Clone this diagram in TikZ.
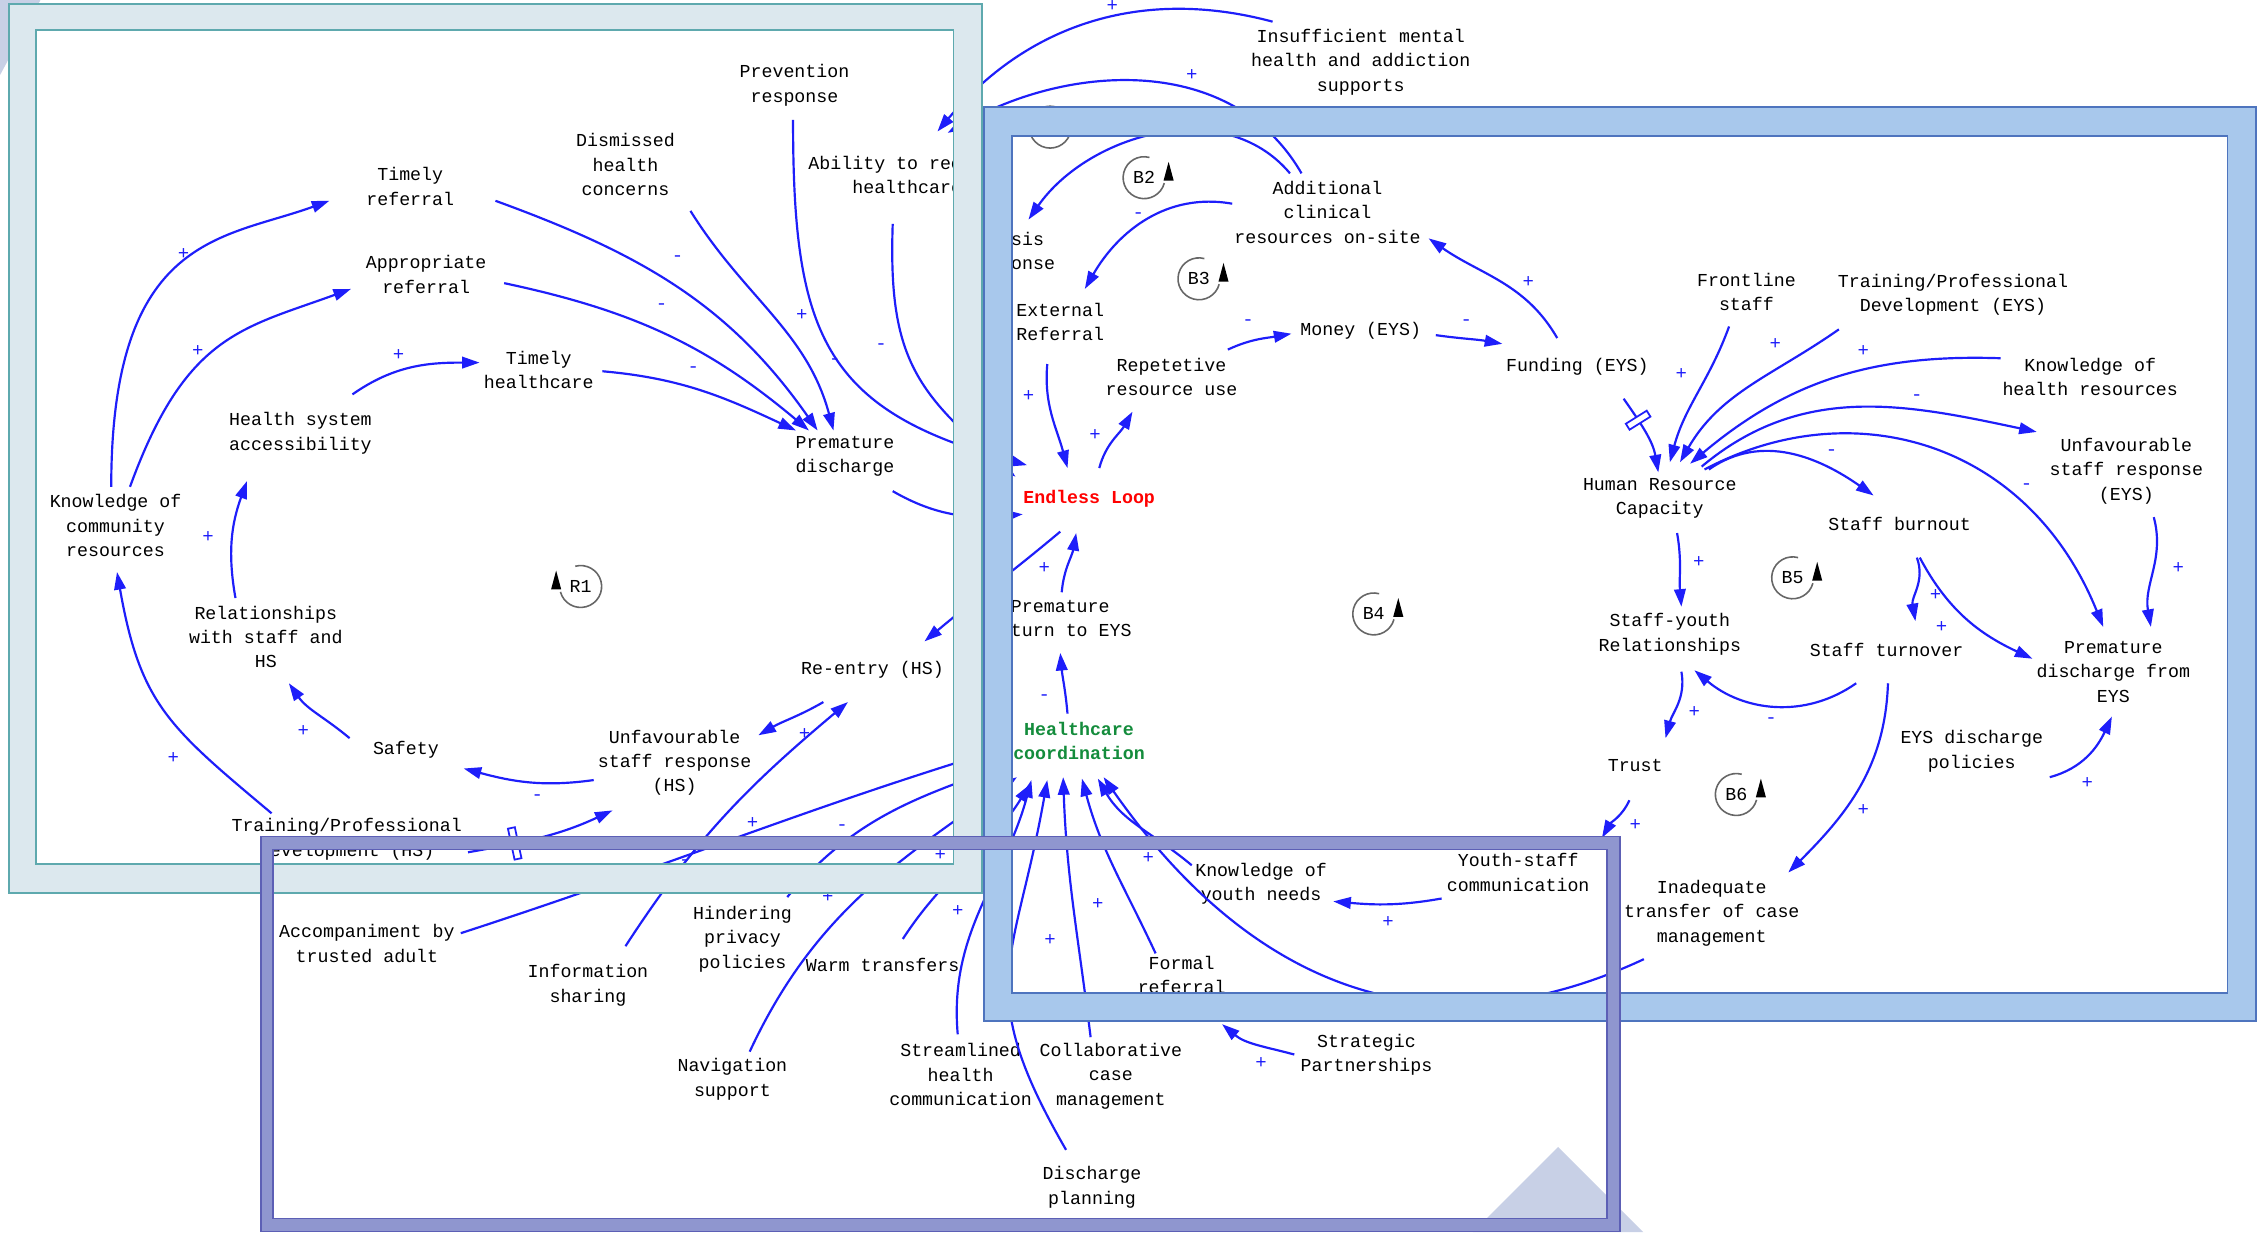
\documentclass[tikz,border=0pt]{standalone}
\usepackage{fontspec}
\usetikzlibrary{arrows.meta}
\newfontfamily\vm{Liberation Mono}
\definecolor{arblue}{RGB}{30,30,250}
\definecolor{hcgreen}{RGB}{20,140,60}
\definecolor{tealfill}{HTML}{DCE8EE}
\definecolor{tealline}{HTML}{5EA9AE}
\definecolor{bluefill}{HTML}{A8C8EC}
\definecolor{blueline}{HTML}{4E74BE}
\definecolor{purpfill}{HTML}{8F96CF}
\definecolor{purpline}{HTML}{5C5FB5}
\definecolor{lav}{HTML}{C8D0E6}
\newcommand\arr[7]{\draw[ar] ([shift={(#2,#3)}]#1.center) to[#7] ([shift={(#5,#6)}]#4.center);}
\newcommand\sg[4]{\node[sgn] (#1) at (#2,-#3) {#4};}
\newcommand\bsym[4]{%
  \draw[loopc] (#2,#3) ++(75:14.5) arc[start angle=75,end angle=345,radius=14.5];
  \fill[black] (#2+13.5,#3-2) -- (#2+20.5,#3-2) -- (#2+17,#3+11) -- cycle;
  \node[lbl] (#1) at (#2,#3) {#4};}
\newcommand\rsym[4]{%
  \draw[loopc] (#2,#3) ++(105:14.5) arc[start angle=105,end angle=-165,radius=14.5];
  \fill[black] (#2-13.5,#3-2) -- (#2-20.5,#3-2) -- (#2-17,#3+11) -- cycle;
  \node[lbl] (#1) at (#2,#3) {#4};}
\begin{document}
\begin{tikzpicture}[x=0.014445cm,y=0.014445cm,
  v/.style={font=\vm\fontsize{5.2}{6.95}\selectfont, align=center, inner sep=1pt, text=black},
  ar/.style={draw=arblue, line width=0.62pt, -{Triangle[length=5pt,width=3.3pt]}},
  sgn/.style={font=\vm\fontsize{5.4}{6}\selectfont, text=arblue, inner sep=0pt},
  loopc/.style={draw=black!60, line width=0.45pt},
  lbl/.style={font=\vm\fontsize{5.2}{6}\selectfont, inner sep=0pt, text=black},
  dly/.style={draw=arblue, fill=white, line width=0.5pt, minimum width=2pt, minimum height=9pt, inner sep=0pt, sloped}]
\useasboundingbox (0,0) rectangle (1568,-853);
\fill[white] (0,0) rectangle (1568,-853);
\fill[lav] (0,0) -- (28,0) -- (0,-52) -- cycle;

% ---------- variables ----------
\node[v] (prev) at (550,-59) {Prevention\\response};
\node[v] (dism) at (433,-114) {Dismissed\\health\\concerns};
\node[v] (trf) at (284,-129) {Timely\\referral};
\node[v] (abil) at (628,-121) {Ability to receive\\healthcare};
\node[v] (apr) at (295,-190) {Appropriate\\referral};
\node[v] (thc) at (373,-256) {Timely\\healthcare};
\node[v] (hsa) at (208,-300) {Health system\\accessibility};
\node[v] (pd) at (585,-316) {Premature\\discharge};
\node[v] (kcr) at (80,-364) {Knowledge of\\community\\resources};
\node[v] (rel) at (184,-441) {Relationships\\with staff and\\HS};
\node[v] (reentry) at (604,-464) {Re-entry (HS)};
\node[v] (safety) at (281,-519) {Safety};
\node[v] (usrhs) at (467,-528) {Unfavourable\\staff response\\(HS)};
\node[v] (tpdhs) at (240,-581) {Training/Professional\\Development (HS)};
\node[v] (acc) at (254,-653) {Accompaniment by\\trusted adult};
\node[v] (info) at (407,-682) {Information\\sharing};
\node[v] (hind) at (514,-650) {Hindering\\privacy\\policies};
\node[v] (warm) at (611,-668) {Warm transfers};
\node[v] (nav) at (507,-747) {Navigation\\support};
\node[v] (stream) at (665,-744) {Streamlined\\health\\communication};
\node[v] (collab) at (769,-745) {Collaborative\\case\\management};
\node[v] (disch) at (756,-822) {Discharge\\planning};
\node[v] (formal) at (818,-675) {Formal\\referral};
\node[v] (strat) at (946,-730) {Strategic\\Partnerships};
\node[v] (kyn) at (873,-612) {Knowledge of\\youth needs};
\node[v] (ysc) at (1051,-604) {Youth-staff\\communication};
\node[v] (itcm) at (1185,-632) {Inadequate\\transfer of case\\management};
\node[v, font=\vm\bfseries\fontsize{5.2}{6.95}\selectfont, text=hcgreen] (hcc) at (747,-513) {Healthcare\\coordination};
\node[v] (prem) at (734,-428) {Premature\\return to EYS};
\node[v, font=\vm\bfseries\fontsize{5.2}{6.95}\selectfont, text=red] (loop) at (754,-345) {Endless Loop};
\node[v] (crisis) at (700,-175) {Crisis\\response};
\node[v] (extref) at (734,-223) {External\\Referral};
\node[v] (rep) at (811,-261) {Repetetive\\resource use};
\node[v] (money) at (942,-229) {Money (EYS)};
\node[v] (fund) at (1092,-254) {Funding (EYS)};
\node[v] (addc) at (919,-147) {Additional\\clinical\\resources on-site};
\node[v] (insuf) at (942,-43) {Insufficient mental\\health and addiction\\supports};
\node[v] (front) at (1209,-202) {Frontline\\staff};
\node[v] (tpdeys) at (1352,-204) {Training/Professional\\Development (EYS)};
\node[v] (khr) at (1447,-261) {Knowledge of\\health resources};
\node[v] (hrc) at (1149,-345) {Human Resource\\Capacity};
\node[v] (usreys) at (1472,-326) {Unfavourable\\staff response\\(EYS)};
\node[v] (burn) at (1315,-363) {Staff burnout};
\node[v] (syr) at (1156,-439) {Staff-youth\\Relationships};
\node[v] (turn) at (1306,-450) {Staff turnover};
\node[v] (pdeys) at (1463,-465) {Premature\\discharge from\\EYS};
\node[v] (trust) at (1132,-530) {Trust};
\node[v] (eysdp) at (1365,-520) {EYS discharge\\policies};

% ---------- links ----------
\arr{kcr}{-3}{27}{trf}{-56}{-10}{out=90,in=200,out looseness=1.8,in looseness=0.8}
\arr{kcr}{10}{27}{apr}{-52}{-10}{out=70,in=200,out looseness=1.4}
\arr{tpdhs}{-52}{18}{kcr}{1}{-32}{out=140,in=-80,looseness=1.2}
\arr{rel}{-21}{27}{hsa}{-37}{-33}{out=100,in=-110}
\arr{safety}{-39}{8}{rel}{16}{-32}{out=140,in=-55}
\arr{usrhs}{-56}{-12}{safety}{40}{-13}{out=188,in=-15}
\arr{hsa}{36}{27}{thc}{-41}{5}{out=35,in=180}
\arr{trf}{59}{-10}{pd}{-19}{18}{out=-20,in=125}
\arr{apr}{54}{-6}{pd}{-25}{18}{out=-12,in=140}
\arr{thc}{44}{-1}{pd}{-34}{18}{out=-5,in=155}
\arr{dism}{45}{-32}{pd}{-8}{18}{out=-58,in=105}
\arr{prev}{-1}{-24}{loop}{-43}{23}{out=-90,in=165,looseness=1.3}
\arr{abil}{-10}{-34}{loop}{-51}{15}{out=-92,in=140,looseness=1.2}
\arr{pd}{33}{-24}{loop}{-46}{-11}{out=-30,in=185}
\arr{loop}{-20}{-23}{reentry}{36}{20}{out=-140,in=40}
\arr{reentry}{-34}{-22}{usrhs}{58}{19}{out=-150,in=30}
\arr{info}{26}{27}{reentry}{-17}{-22}{out=57,in=220}
\draw[ar] ([shift={(84,-9)}]tpdhs.center) to[out=10,in=205] node[dly,pos=0.3] (d1) {} ([shift={(-43,-33)}]usrhs.center);
\arr{acc}{65}{7}{hcc}{-46}{-3}{out=18,in=197}
\arr{hind}{31}{29}{hcc}{-46}{-15}{out=50,in=200}
\arr{nav}{12}{19}{hcc}{-43}{-25}{out=65,in=215}
\arr{warm}{14}{18}{hcc}{-34}{-30}{out=57,in=238}
\arr{stream}{-2}{28}{hcc}{-33}{-27}{out=95,in=-105}
\arr{disch}{-18}{26}{hcc}{-22}{-27}{out=120,in=-100,looseness=1.3}
\arr{collab}{-14}{27}{hcc}{-11}{-25}{out=97,in=-88}
\arr{formal}{-18}{15}{hcc}{2}{-26}{out=115,in=-75}
\arr{kyn}{-48}{13}{hcc}{13}{-26}{out=140,in=-60}
\arr{itcm}{-47}{-32}{hcc}{17}{-25}{out=-155,in=-55,looseness=1.1}
\arr{strat}{-50}{0}{formal}{28}{-34}{out=165,in=-40}
\arr{ysc}{-53}{-18}{kyn}{50}{-12}{out=-170,in=-5}
\arr{trust}{-4}{-24}{ysc}{58}{24}{out=-115,in=60}
\arr{turn}{1}{-23}{itcm}{53}{28}{out=-92,in=45}
\arr{turn}{-21}{-23}{syr}{17}{-25}{out=-145,in=-40}
\arr{syr}{8}{-26}{trust}{21}{19}{out=-80,in=75}
\arr{hrc}{12}{-24}{syr}{8}{19}{out=-80,in=95}
\draw[ar] ([shift={(32,-22)}]fund.center) to[out=-55,in=100] node[dly,pos=0.3,minimum height=7pt] (d2) {} ([shift={(-1,18)}]hrc.center);
\arr{front}{-12}{-24}{hrc}{7}{25}{out=-110,in=75}
\arr{tpdeys}{-79}{-24}{hrc}{14}{25}{out=-145,in=60}
\arr{khr}{-62}{13}{hrc}{21}{24}{out=178,in=40}
\arr{hrc}{29}{22}{usreys}{-62}{27}{out=40,in=168}
\arr{hrc}{31}{20}{pdeys}{-7}{31}{out=28,in=112,in looseness=1.2}
\arr{hrc}{34}{20}{burn}{-18}{20}{out=35,in=145}
\arr{usreys}{19}{-32}{pdeys}{26}{31}{out=-75,in=100}
\arr{burn}{12}{-23}{turn}{20}{20}{out=-70,in=100}
\arr{burn}{14}{-23}{pdeys}{-56}{9}{out=-62,in=155}
\arr{eysdp}{54}{-18}{pdeys}{-1}{-31}{out=15,in=-115}
\arr{insuf}{-61}{28}{abil}{21}{30}{out=165,in=50}
\arr{addc}{-18}{27}{abil}{28}{29}{out=120,in=30}
\arr{addc}{-26}{27}{crisis}{12}{23}{out=130,in=55}
\arr{addc}{-66}{6}{extref}{17}{23}{out=170,in=60}
\arr{fund}{-14}{20}{addc}{70}{-18}{out=120,in=-35}
\arr{money}{52}{-3}{fund}{-52}{16}{out=-8,in=170}
\arr{rep}{39}{19}{money}{-48}{-2}{out=25,in=190}
\arr{extref}{-9}{-29}{loop}{-15}{21}{out=-95,in=105}
\arr{loop}{7}{21}{rep}{-27}{-24}{out=75,in=-120}
\arr{prem}{1}{18}{loop}{-9}{-24}{out=85,in=-100}
\arr{hcc}{-8}{19}{prem}{0}{-24}{out=95,in=-85}

% ---------- polarities ----------
\sg{s1}{127}{176}{+} \sg{s2}{137}{243}{+} \sg{s3}{276}{246}{+} \sg{s4}{144}{372}{+}
\sg{s5}{120}{525}{+} \sg{s6}{210}{506}{+} \sg{s7}{372}{552}{-} \sg{s8}{469}{179}{-}
\sg{s9}{458}{212}{-} \sg{s10}{480}{256}{-} \sg{s11}{555}{218}{+} \sg{s12}{578}{250}{-}
\sg{s13}{610}{240}{-} \sg{s14}{557}{508}{+} \sg{s15}{521}{570}{+} \sg{s16}{474}{597}{-}
\sg{s17}{583}{573}{-} \sg{s18}{651}{592}{+} \sg{s19}{573}{621}{+} \sg{s20}{663}{631}{+}
\sg{s21}{727}{651}{+} \sg{s22}{760}{626}{+} \sg{s23}{795}{594}{+} \sg{s24}{873}{736}{+}
\sg{s25}{961}{638}{+} \sg{s26}{1132}{571}{+} \sg{s27}{1290}{561}{+} \sg{s28}{1226}{499}{-}
\sg{s29}{1173}{493}{+} \sg{s30}{1176}{389}{+} \sg{s31}{1164}{259}{+} \sg{s32}{1229}{238}{+}
\sg{s33}{1290}{243}{+} \sg{s34}{1327}{275}{-} \sg{s35}{1268}{313}{-} \sg{s36}{1403}{337}{-}
\sg{s37}{1508}{393}{+} \sg{s38}{1340}{412}{+} \sg{s39}{1344}{434}{+} \sg{s40}{1445}{542}{+}
\sg{s41}{1058}{195}{+} \sg{s42}{1015}{223}{-} \sg{s43}{864}{223}{-} \sg{s44}{712}{274}{+}
\sg{s45}{758}{301}{+} \sg{s46}{723}{393}{+} \sg{s47}{723}{483}{-} \sg{s48}{788}{149}{-}
\sg{s49}{825}{52}{+} \sg{s50}{770}{4}{+}

% ---------- loop markers ----------
\rsym{r1}{402}{-406}{R1}
\bsym{b2}{792}{-123}{B2}
\bsym{b3}{830}{-193}{B3}
\bsym{b4}{951}{-425}{B4}
\bsym{b5}{1241}{-400}{B5}
\bsym{b6}{1202}{-550}{B6}
\draw[loopc] (727,-88) circle[radius=14.5];

% ---------- frames ----------
\fill[lav] (1078.6,-794) -- (1137.6,-853) -- (1019.6,-853) -- cycle;
\fill[tealfill, even odd rule] (6,-3) rectangle (680,-618) (25,-21) rectangle (660,-598);
\draw[tealline, line width=0.5pt] (6,-3) rectangle (680,-618) (25,-21) rectangle (660,-598);
\fill[bluefill, even odd rule] (681,-74) rectangle (1562,-707) (700.5,-94) rectangle (1542,-687.5);
\draw[blueline, line width=0.5pt] (681,-74) rectangle (1562,-707) (700.5,-94) rectangle (1542,-687.5);
\fill[purpfill, even odd rule] (180.5,-579) rectangle (1121.5,-852.5) (189,-588) rectangle (1112.5,-843.5);
\draw[purpline, line width=0.5pt] (180.5,-579) rectangle (1121.5,-852.5) (189,-588) rectangle (1112.5,-843.5);
\end{tikzpicture}
\end{document}
